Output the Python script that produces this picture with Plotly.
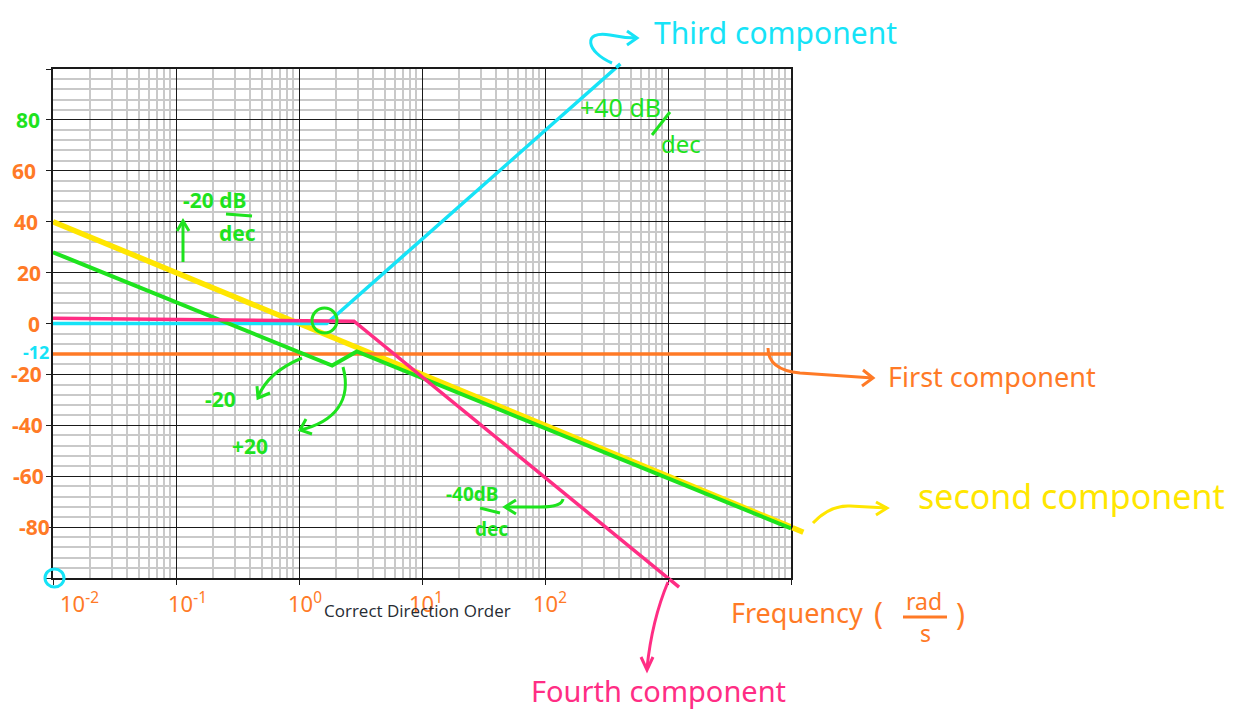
import math
import plotly.graph_objects as go

# Asymptotic Bode magnitude components (frequency in rad/s, magnitude in dB)
first_w = [0.01, 1e4]
first_db = [-12, -12]
second_w = [0.01, 12600]
second_db = [40, -82]
third_w = [0.01, 1.68, 410]
third_db = [0, 0, 102]
fourth_w = [0.01, 2.8, 1230]
fourth_db = [2.1, 0.9, -103.6]
total_w = [0.01, 1.86, 2.95, 1e4]
total_db = [28, -16.5, -11, -80.5]

y_tick_vals = [80, 60, 40, 20, 0, -12, -20, -40, -60, -80]
y_tick_text = ["80", "60", "40", "20", "0", "-12", "-20", "-40", "-60", "-80"]
x_tick_vals = [0.01, 0.1, 1, 10, 100]
x_tick_text = ["10<sup>-2</sup>", "10<sup>-1</sup>", "10<sup>0</sup>", "10<sup>1</sup>", "10<sup>2</sup>"]

ORANGE = "#FF7A26"
YELLOW = "#FFE600"
CYAN = "#16E3F7"
PINK = "#FF2D84"
GREEN = "#1EE31E"
HAND = "Noto Sans"

# plot area in pixels
L, R, T, B = 53, 791, 69, 578
W, H = 1244, 713


def P(px, py):
    """pixel position -> paper coordinates"""
    return (px - L) / (R - L), (B - py) / (B - T)


def fmt(p):
    return "%.5f,%.5f" % P(*p)


def path(spec):
    out = []
    for cmd, pts in spec:
        if cmd == "M" and len(pts) > 1:
            out.append("M " + fmt(pts[0]))
            out.extend("L " + fmt(p) for p in pts[1:])
        else:
            out.append(cmd + " " + " ".join(fmt(p) for p in pts))
    return " ".join(out)


fig = go.Figure()

series = [
    (second_w, second_db, YELLOW, 5.5),
    (third_w, third_db, CYAN, 3.5),
    (first_w, first_db, ORANGE, 3.5),
    (total_w, total_db, GREEN, 4),
    (fourth_w, fourth_db, PINK, 3.5),
]
for w, db, col, lw in series:
    fig.add_trace(go.Scatter(x=w, y=db, mode="lines", line=dict(color=col, width=lw),
                             hoverinfo="skip", showlegend=False))

annotations = []
shapes = []

# parts of the last segment that run past the plot frame (lines are clipped)
XMIN, XMAX, YMIN, YMAX = -2, 4, -100, 100
for w, db, col, lw in series:
    x0, x1 = math.log10(w[-2]), math.log10(w[-1])
    y0, y1 = db[-2], db[-1]
    ts = []
    if x1 > XMAX:
        ts.append((XMAX - x0) / (x1 - x0))
    if y1 > YMAX:
        ts.append((YMAX - y0) / (y1 - y0))
    if y1 < YMIN:
        ts.append((YMIN - y0) / (y1 - y0))
    if not ts:
        continue
    t = min(ts)
    xs, ys = x0 + t * (x1 - x0), y0 + t * (y1 - y0)
    annotations.append(dict(x=x1, y=y1, xref="x", yref="y", ax=xs, ay=ys,
                            axref="x", ayref="y", text="", showarrow=True,
                            arrowhead=0, arrowwidth=lw, arrowcolor=col,
                            standoff=0, startstandoff=0))

# y tick labels
y_colors = [GREEN] + [ORANGE] * 4 + [CYAN] + [ORANGE] * 4
y_shift = [-11, -15, -13, -10, -11, -2, -9, -8, -7, -1]
y_size = [21, 21, 21, 21, 21, 18, 21, 21, 21, 21]
for v, txt, c, s, fs in zip(y_tick_vals, y_tick_text, y_colors, y_shift, y_size):
    annotations.append(dict(x=0, y=v, xref="paper", yref="y", text=txt, showarrow=False,
                            xanchor="right", xshift=s, yshift=2 if v == -12 else 0,
                            font=dict(family=HAND, size=fs, color=c, weight="bold")))

# x tick labels
x_shift = [26, 11, 6, 4, 5]
for v, txt, s in zip(x_tick_vals, x_tick_text, x_shift):
    annotations.append(dict(x=math.log10(v), y=0, xref="x", yref="paper", text=txt,
                            showarrow=False, xanchor="center", yanchor="middle",
                            xshift=s, yshift=-24,
                            font=dict(family=HAND, size=22, color=ORANGE)))


def label(px, py, txt, color, size, weight="normal", family=HAND):
    x, y = P(px, py)
    annotations.append(dict(x=x, y=y, xref="paper", yref="paper", text=txt,
                            showarrow=False, xanchor="center", yanchor="middle",
                            font=dict(family=family, size=size, color=color, weight=weight)))


def stroke(spec, color, width=3):
    shapes.append(dict(type="path", xref="paper", yref="paper", path=path(spec),
                       line=dict(color=color, width=width), layer="above"))


def circle(x0, y0, x1, y1, color, width=3):
    a, b = P(x0, y1)
    c, d = P(x1, y0)
    shapes.append(dict(type="circle", xref="paper", yref="paper", x0=a, y0=b, x1=c, y1=d,
                       line=dict(color=color, width=width), layer="above"))


# component names with pointers
label(775, 32, "Third component", CYAN, 30)
stroke([("M", [(612, 63)]), ("C", [(586, 52), (582, 30), (610, 35)]), ("Q", [(624, 38), (637, 38)])], CYAN)
stroke([("M", [(627, 31), (637, 38), (627, 45)])], CYAN)

label(992, 377, "First component", ORANGE, 27)
stroke([("M", [(768, 348)]), ("Q", [(768, 370), (800, 373)]), ("L", [(873, 378)])], ORANGE)
stroke([("M", [(863, 370), (873, 378), (862, 386)])], ORANGE)

label(1071, 496, "second component", YELLOW, 34)
stroke([("M", [(813, 523)]), ("Q", [(830, 505), (850, 506)]), ("L", [(887, 508)])], YELLOW)
stroke([("M", [(876, 502), (887, 508), (876, 515)])], YELLOW)

label(658, 690, "Fourth component", PINK, 29)
stroke([("M", [(668, 582)]), ("Q", [(652, 620), (647, 668)])], PINK)
stroke([("M", [(641, 657), (647, 670), (653, 657)])], PINK)

# slope notes
label(620, 107, "+40 dB", GREEN, 25)
stroke([("M", [(670, 112), (652, 135)])], GREEN)
label(681, 143, "dec", GREEN, 24)

label(214, 200, "-20 dB", GREEN, 21, "bold")
stroke([("M", [(226, 214), (252, 216)])], GREEN)
label(238, 233, "dec", GREEN, 21, "bold")
stroke([("M", [(183, 262), (183, 222)])], GREEN)
stroke([("M", [(177, 231), (183, 221), (189, 231)])], GREEN)

label(220, 399, "-20", GREEN, 21, "bold")
stroke([("M", [(302, 358)]), ("Q", [(268, 372), (258, 397)])], GREEN)
stroke([("M", [(257, 386), (258, 398), (270, 393)])], GREEN)

label(250, 446, "+20", GREEN, 21, "bold")
stroke([("M", [(343, 367)]), ("C", [(352, 400), (335, 422), (300, 430)])], GREEN)
stroke([("M", [(306, 419), (300, 430), (312, 434)])], GREEN)

label(472, 494, "-40dB", GREEN, 19, "bold")
stroke([("M", [(480, 508), (500, 513)])], GREEN)
label(492, 529, "dec", GREEN, 19, "bold")
stroke([("M", [(563, 499)]), ("Q", [(562, 507), (540, 507)]), ("L", [(505, 507)])], GREEN)
stroke([("M", [(516, 500), (505, 507), (516, 514)])], GREEN)

# highlight marks
circle(312, 308, 337, 333, GREEN)
circle(45, 569, 64, 587, CYAN)

# axis titles
label(417, 610, "Correct Direction Order", "#262B33", 17, family="Open Sans")
label(797, 612, "Frequency", ORANGE, 27)
label(878, 612, "(", ORANGE, 30)
label(924, 601, "rad", ORANGE, 23)
stroke([("M", [(903, 617), (947, 617)])], ORANGE)
label(925, 633, "s", ORANGE, 23)
label(960, 613, ")", ORANGE, 30)

minor_x = [k * 10 ** n for n in range(-2, 4) for k in range(2, 10)]

fig.update_layout(
    width=W, height=H, autosize=False,
    margin=dict(l=L, r=W - R, t=T, b=H - B, pad=0),
    plot_bgcolor="white", paper_bgcolor="white",
    annotations=annotations, shapes=shapes,
    xaxis=dict(type="log", range=[XMIN, XMAX], dtick=1, showticklabels=False,
               showgrid=True, gridcolor="#1a1a1a", gridwidth=1.3,
               ticks="outside", ticklen=5, tickcolor="#1a1a1a", tickwidth=1.3,
               showline=True, linecolor="#1a1a1a", linewidth=1.5, mirror=True,
               minor=dict(tickvals=minor_x, showgrid=True, gridcolor="#c9c9c9", gridwidth=1.5),
               zeroline=False),
    yaxis=dict(range=[YMIN, YMAX], dtick=20, showticklabels=False,
               showgrid=True, gridcolor="#1a1a1a", gridwidth=1.3,
               ticks="outside", ticklen=5, tickcolor="#1a1a1a", tickwidth=1.3,
               showline=True, linecolor="#1a1a1a", linewidth=1.5, mirror=True,
               minor=dict(dtick=4, showgrid=True, gridcolor="#c9c9c9", gridwidth=1.5),
               zeroline=True, zerolinecolor="#1a1a1a", zerolinewidth=1.3),
)

fig.write_html("out.html")
